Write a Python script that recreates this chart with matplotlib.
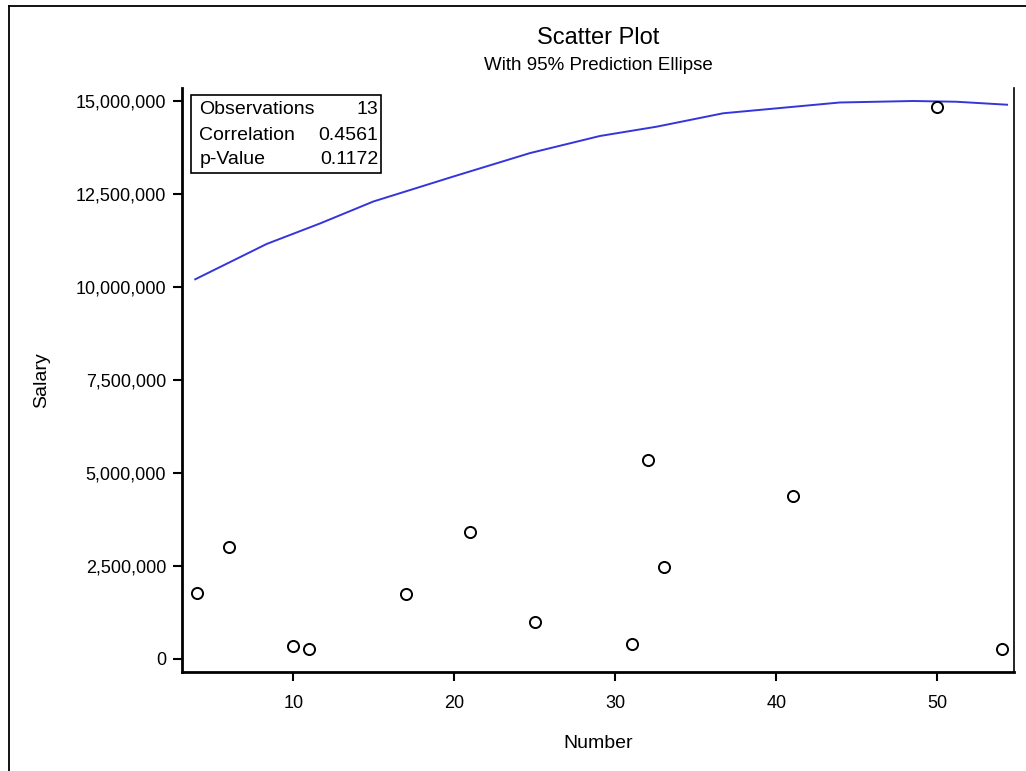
import matplotlib
matplotlib.use("Agg")
import matplotlib.pyplot as plt
from matplotlib.lines import Line2D
from matplotlib.patches import Rectangle
from matplotlib.ticker import StrMethodFormatter

plt.rcParams['font.family'] = ['Liberation Sans', 'DejaVu Sans']

# data
number = [4, 6, 10, 11, 17, 21, 25, 31, 32, 33, 41, 50, 54]
salary = [1774000, 3000000, 350000, 280000, 1747000, 3414000, 995000,
          414000, 5333000, 2465000, 4366000, 14840000, 280000]

# visible upper arc of the 95% prediction ellipse
ell_x = [3.91, 8.35, 11.66, 14.97, 19.93, 24.69, 29.04, 32.56, 36.69, 43.94, 48.49, 51.18, 54.32]
ell_y = [10200000, 11150000, 11700000, 12290000, 12960000, 13590000, 14050000,
         14300000, 14660000, 14950000, 14990000, 14970000, 14890000]

stat_labels = ["Observations", "Correlation", "p-Value"]
stat_values = ["13", "0.4561", "0.1172"]

xticks = [10, 20, 30, 40, 50]
yticks = [0, 2500000, 5000000, 7500000, 10000000, 12500000, 15000000]

fig = plt.figure(figsize=(10.26, 7.71), dpi=100)
ax = fig.add_axes([0.1774, 0.1284, 0.8109, 0.7575])

ax.plot(ell_x, ell_y, color='#3535dc', linewidth=1.4, zorder=2)
ax.plot(number, salary, linestyle='none', marker='o', markersize=8,
        markerfacecolor='white', markeredgecolor='black', markeredgewidth=1.4, zorder=3)

ax.set_xlim(3.09, 54.75)
ax.set_ylim(-350000, 15340000)
ax.set_xticks(xticks)
ax.set_yticks(yticks)
ax.yaxis.set_major_formatter(StrMethodFormatter('{x:,.0f}'))

ax.spines['top'].set_visible(False)
ax.spines['left'].set_linewidth(2)
ax.spines['bottom'].set_linewidth(2)
ax.spines['right'].set_linewidth(1.2)
ax.tick_params(axis='both', direction='out', length=6.5, width=1.5, labelsize=13, colors='black')
ax.tick_params(axis='y', pad=5)
ax.tick_params(axis='x', pad=10)

# stats box in the top left corner
ax.add_patch(Rectangle((191 / 1026, 1 - 173.3 / 771), 190 / 1026, 78.6 / 771,
                       transform=fig.transFigure, fill=False, edgecolor='black',
                       linewidth=1.2, zorder=4))
row_y = [109.3, 135, 160]
for lab, val, yy in zip(stat_labels, stat_values, row_y):
    fig.text(199.3 / 1026, 1 - yy / 771, lab, fontsize=14, ha='left', va='center')
    fig.text(378.3 / 1026, 1 - yy / 771, val, fontsize=14, ha='right', va='center')

fig.text(598 / 1026, 1 - 38 / 771, "Scatter Plot", fontsize=17, ha='center', va='center')
fig.text(598 / 1026, 1 - 65 / 771, "With 95% Prediction Ellipse", fontsize=13.5,
         ha='center', va='center')
fig.text(598 / 1026, 1 - 743 / 771, "Number", fontsize=14, ha='center', va='center')
fig.text(42 / 1026, 1 - 380 / 771, "Salary", fontsize=14, ha='center', va='center',
         rotation=90)

# outer frame lines (top and left edges visible)
fig.add_artist(Line2D([9 / 1026, 1], [1 - 6 / 771, 1 - 6 / 771], color='black', linewidth=1.3))
fig.add_artist(Line2D([9 / 1026, 9 / 1026], [0, 1 - 6 / 771], color='black', linewidth=1.3))

fig.savefig("out.png", dpi=100)
